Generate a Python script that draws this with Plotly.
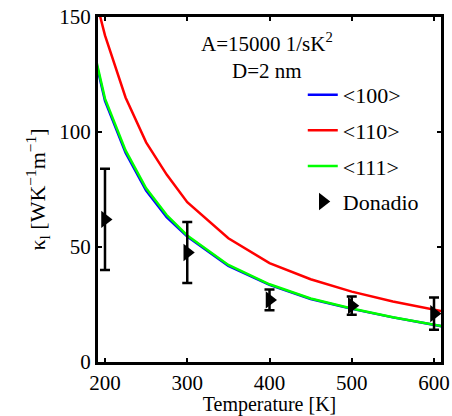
import plotly.graph_objects as go

T = [190, 200, 225, 250, 275, 300, 350, 400, 450, 500, 550, 600, 610]
k100 = [129, 113.5, 91, 74.5, 63, 54.5, 41.8, 33.5, 27.4, 23.1, 19.4, 16.1, 15.5]
k110 = [156, 142, 115, 95.5, 81.5, 69.5, 53.8, 43, 36, 30.6, 26.3, 22.7, 22.1]
k111 = [130, 114.5, 92, 75.5, 63.9, 55, 42.2, 33.8, 27.6, 23.3, 19.5, 16.2, 15.6]

T_don = [200, 300, 400, 500, 600]
k_don = [62, 47.6, 27, 24.5, 21]
err_don = [22, 13.3, 4.5, 4, 7]

FONT = "Liberation Serif"

fig = go.Figure()
fig.add_trace(go.Scatter(x=T, y=k100, mode="lines", name="&lt;100&gt;",
                         line=dict(color="#0000ff", width=2.5), legendgroup="a"))
fig.add_trace(go.Scatter(x=T, y=k110, mode="lines", name="&lt;110&gt;",
                         line=dict(color="#ff0000", width=2.5), legendgroup="b"))
fig.add_trace(go.Scatter(x=T, y=k111, mode="lines", name="&lt;111&gt;",
                         line=dict(color="#00ff00", width=2.5), legendgroup="c"))
fig.add_trace(go.Scatter(x=T_don, y=k_don, mode="markers", name="Donadio",
                         marker=dict(symbol="triangle-right", size=15, color="black"),
                         error_y=dict(type="data", array=err_don, color="black",
                                      thickness=2.5, width=5),
                         legendgroup="d"))

axis_common = dict(showline=True, linecolor="black", linewidth=3, mirror="ticks",
                   ticks="inside", ticklen=4, tickwidth=1.5, tickcolor="black",
                   showgrid=False, zeroline=False, automargin=False,
                   tickfont=dict(family=FONT, size=21, color="black"))

fig.update_xaxes(range=[191.5, 608.5], tickvals=[200, 300, 400, 500, 600],
                 title=dict(text="Temperature [K]", font=dict(family=FONT, size=20, color="black"),
                            standoff=5),
                 **axis_common)
fig.update_yaxes(range=[0, 150], tickvals=[0, 50, 100, 150],
                 title=dict(text="κ<sub>l</sub> [WK<sup>−1</sup>m<sup>−1</sup>]",
                            font=dict(family=FONT, size=22, color="black"), standoff=8),
                 **axis_common)

fig.add_annotation(text="A=15000 1/sK<sup>2</sup><br>D=2 nm", xref="paper", yref="paper",
                   x=0.493, y=0.886, xanchor="center", yanchor="middle", showarrow=False,
                   align="center",
                   font=dict(family=FONT, size=21, color="black"))

fig.update_layout(
    width=452, height=416,
    margin=dict(l=98, r=11, t=17, b=54),
    paper_bgcolor="white", plot_bgcolor="white",
    font=dict(family=FONT, color="black"),
    showlegend=True,
    legend=dict(x=0.597, y=0.835, xanchor="left", yanchor="top",
                bgcolor="rgba(0,0,0,0)", traceorder="grouped", tracegroupgap=4,
                font=dict(family=FONT, size=22, color="black"), itemwidth=30),
)

fig.write_html("out.html", config={"displayModeBar": False},
               post_script="document.body.style.margin='0';document.body.style.overflow='hidden';")
